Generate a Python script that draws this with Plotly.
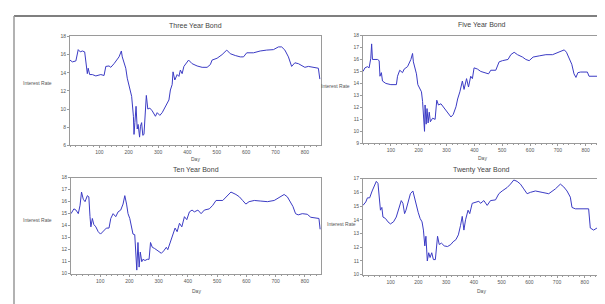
import plotly.graph_objects as go

# ---------------- data ----------------
three_days = [0, 8, 20, 28, 35, 42, 50, 55, 59, 62, 67, 76, 88, 105, 116, 122, 133, 139, 150, 167,
              175, 178, 184, 190, 195, 201, 206, 210, 216, 218, 221, 225, 229, 232, 237, 240, 244, 248,
              252, 257, 260, 265, 272, 280, 291, 297, 306, 314, 322, 331, 337, 342, 348, 351, 357, 365,
              371, 376, 382, 388, 396, 404, 416, 433, 450, 467, 478, 484, 501, 518, 534, 546, 563, 580,
              591, 602, 625, 648, 670, 693, 710, 721, 732, 744, 755, 766, 778, 789, 800, 812, 830, 846, 851]
three_vals = [15.4, 15.2, 15.3, 16.55, 16.3, 16.4, 16.3, 15.2, 13.9, 14.5, 13.8, 13.8, 13.65, 13.8, 13.7,
              14.7, 14.75, 14.6, 15.0, 15.75, 16.4, 15.75, 15.0, 14.5, 13.4, 12.5, 12.1, 11.4, 9.2, 7.2,
              8.5, 10.3, 7.8, 8.3, 6.9, 8.1, 8.5, 7.1, 7.2, 10.3, 11.5, 10.0, 10.1, 9.8, 9.2, 9.6, 9.3,
              9.6, 10.1, 10.7, 11.0, 12.1, 12.7, 14.1, 13.2, 13.8, 13.6, 14.3, 13.9, 14.7, 15.0, 15.4,
              15.0, 14.75, 14.6, 14.6, 14.9, 15.4, 15.6, 16.0, 16.5, 16.1, 15.9, 15.75, 15.75, 16.2, 16.2,
              16.4, 16.5, 16.55, 16.85, 16.85, 16.5, 15.75, 14.7, 15.1, 15.0, 14.75, 14.6, 14.7, 14.6,
              14.5, 13.3]

five_days = [0, 7, 16, 22, 28, 31, 34, 40, 52, 58, 61, 66, 70, 82, 100, 120, 124, 132, 142, 148, 160,
             172, 178, 181, 187, 192, 197, 204, 210, 214, 218, 221, 223, 227, 230, 234, 238, 242, 250,
             259, 265, 271, 280, 288, 297, 307, 316, 324, 334, 340, 348, 357, 363, 372, 379, 387, 393,
             399, 411, 423, 441, 451, 459, 477, 489, 501, 521, 531, 543, 555, 573, 585, 597, 611, 633,
             657, 681, 705, 723, 731, 741, 750, 758, 765, 772, 782, 806, 812, 854]
five_vals = [15.0, 15.3, 15.4, 15.3, 16.1, 17.3, 16.0, 16.0, 16.0, 15.9, 14.6, 14.9, 14.2, 14.0, 13.9,
             13.9, 14.6, 15.1, 14.9, 15.2, 15.4, 16.0, 16.5, 15.8, 15.2, 14.8, 13.9, 13.5, 13.3, 12.5,
             11.4, 10.0, 12.2, 10.6, 11.9, 10.7, 11.6, 10.8, 11.1, 11.0, 12.6, 12.2, 12.3, 12.05, 11.8,
             11.4, 11.2, 11.4, 12.05, 12.7, 13.3, 14.2, 13.5, 14.4, 13.7, 14.6, 14.4, 15.3, 15.2, 15.0,
             14.9, 14.8, 15.1, 15.1, 15.8, 15.9, 16.0, 16.4, 16.6, 16.4, 16.2, 16.0, 15.9, 16.2, 16.3,
             16.4, 16.4, 16.6, 16.8, 16.6, 16.1, 15.6, 14.8, 14.5, 14.9, 14.95, 14.95, 14.6, 14.6]

ten_days = [0, 10, 17, 25, 31, 36, 42, 48, 56, 61, 65, 68, 73, 78, 85, 93, 101, 110, 121, 130, 136, 144,
            153, 161, 170, 178, 184, 190, 195, 201, 207, 212, 218, 221, 225, 229, 233, 237, 242, 246,
            253, 261, 267, 272, 278, 286, 297, 309, 317, 326, 331, 339, 348, 356, 363, 371, 379, 388,
            396, 405, 414, 422, 434, 445, 456, 473, 485, 496, 519, 536, 547, 564, 576, 587, 598, 609,
            627, 649, 672, 695, 717, 729, 740, 751, 759, 768, 777, 791, 808, 820, 835, 848, 852]
ten_vals = [15.0, 15.4, 15.3, 15.0, 15.7, 16.8, 16.2, 16.0, 16.5, 16.4, 14.75, 13.9, 14.6, 14.1, 13.9,
            13.5, 13.3, 13.5, 13.8, 13.8, 14.6, 15.0, 14.75, 15.15, 15.3, 15.8, 16.5, 15.8, 15.0, 14.6,
            13.7, 13.3, 13.25, 12.3, 10.3, 12.6, 10.55, 11.8, 11.0, 11.2, 11.1, 11.2, 11.2, 12.6, 12.2,
            12.1, 11.9, 11.7, 11.9, 12.2, 12.0, 12.6, 13.1, 13.8, 13.5, 14.2, 13.9, 14.75, 14.5, 15.15,
            15.3, 15.15, 15.3, 15.0, 15.3, 15.4, 15.7, 16.1, 16.1, 16.5, 16.8, 16.6, 16.4, 16.1, 15.8,
            16.0, 16.1, 16.05, 16.0, 16.1, 16.4, 16.6, 16.4, 16.0, 15.6, 15.0, 14.9, 15.0, 14.95, 14.7,
            14.65, 14.6, 13.7]

twenty_days = [0, 10, 16, 24, 33, 42, 48, 54, 60, 63, 68, 72, 81, 90, 99, 110, 120, 129, 138, 144, 150,
               155, 164, 171, 180, 186, 192, 199, 206, 213, 218, 223, 227, 232, 237, 242, 248, 254, 261,
               266, 269, 275, 283, 293, 305, 317, 325, 335, 344, 352, 358, 364, 370, 379, 385, 394, 406,
               418, 424, 436, 448, 460, 478, 490, 502, 520, 532, 544, 556, 568, 580, 592, 604, 622, 646,
               670, 694, 712, 724, 736, 748, 754, 766, 814, 820, 832, 844, 850, 856]
twenty_vals = [15.05, 15.3, 15.6, 15.6, 16.1, 16.6, 16.8, 16.65, 15.6, 14.7, 14.9, 14.2, 14.1, 13.85,
               13.7, 13.85, 14.2, 14.8, 15.4, 15.2, 14.45, 14.7, 15.4, 15.9, 16.1, 15.6, 14.9, 14.55,
               14.1, 13.85, 13.25, 12.1, 12.8, 11.0, 11.6, 11.25, 11.6, 11.1, 11.1, 12.3, 12.8, 12.2,
               12.3, 12.1, 12.05, 12.2, 12.4, 12.55, 12.9, 13.6, 14.25, 13.25, 14.0, 14.7, 14.45, 15.2,
               15.3, 15.35, 15.2, 15.4, 15.05, 15.4, 15.45, 15.9, 16.1, 16.35, 16.6, 16.9, 16.8, 16.6,
               16.25, 15.9, 16.0, 16.1, 16.0, 15.9, 16.25, 16.6, 16.4, 16.1, 15.65, 14.9, 14.8, 14.8,
               13.4, 13.25, 13.4, 13.5, 13.4]

titles = ["Three Year Bond", "Five Year Bond", "Ten Year Bond", "Twenty Year Bond"]
x_ticks = [100, 200, 300, 400, 500, 600, 700, 800]
y_ranges = [[6, 18], [9, 18], [10, 18], [10, 17]]
y_steps = [2, 1, 1, 1]
x_label = "Day"
y_label = "Interest Rate"

series = [(three_days, three_vals), (five_days, five_vals), (ten_days, ten_vals), (twenty_days, twenty_vals)]

# ---------------- layout geometry (pixels) ----------------
W, H = 605, 304
boxes = [(62, 313, 26, 137), (355, 593, 25, 135), (63, 313, 170, 268), (355, 592, 171, 269)]
title_y = [15, 14, 162, 162]
xlab_y = [151, 150, 286, 286]
ylab_y = [73, 77, 213, 217]
ylab_x = [46, 344, 46, 350]

def px(x):
    return x / W

def py(y):
    return 1 - y / H

fig = go.Figure()
line_color = "#3b3bc4"
text_color = "#555555"
axis_color = "#9a9a9a"

layout = dict(width=W, height=H, margin=dict(l=0, r=0, t=0, b=0),
              paper_bgcolor="white", plot_bgcolor="white", showlegend=False,
              font=dict(family="Arial, Liberation Sans, sans-serif", color=text_color, size=5))
annotations = []
shapes = []

for i, ((d, v), (x0, x1, y0, y1)) in enumerate(zip(series, boxes)):
    n = "" if i == 0 else str(i + 1)
    fig.add_trace(go.Scatter(x=d, y=v, mode="lines", line=dict(color=line_color, width=1),
                             xaxis="x" + n, yaxis="y" + n, hoverinfo="skip"))
    layout["xaxis" + n] = dict(domain=[px(x0), px(x1)], anchor="y" + n, range=[0, 855],
                               tickvals=x_ticks, ticks="outside", ticklen=2, tickcolor=axis_color,
                               tickfont=dict(size=5, color=text_color), showline=True, mirror=True,
                               linecolor=axis_color, linewidth=1, showgrid=False, zeroline=False,
                               minor=dict(ticks="outside", ticklen=1, dtick=20, tick0=0, tickcolor=axis_color))
    lo, hi = y_ranges[i]
    layout["yaxis" + n] = dict(domain=[py(y1), py(y0)], anchor="x" + n, range=[lo, hi],
                               dtick=y_steps[i], tick0=lo, ticks="outside", ticklen=2, tickcolor=axis_color,
                               tickfont=dict(size=5, color=text_color), showline=True, mirror=True,
                               linecolor=axis_color, linewidth=1, showgrid=False, zeroline=False)
    cx = (x0 + x1) / 2
    annotations.append(dict(text=titles[i], x=px(cx), y=py(title_y[i]), xref="paper", yref="paper",
                            showarrow=False, font=dict(size=7, color="#444444"), xanchor="center", yanchor="middle"))
    annotations.append(dict(text=x_label, x=px(cx), y=py(xlab_y[i]), xref="paper", yref="paper",
                            showarrow=False, font=dict(size=5, color=text_color), xanchor="center", yanchor="middle"))
    annotations.append(dict(text=y_label, x=px(ylab_x[i]), y=py(ylab_y[i]), xref="paper", yref="paper",
                            showarrow=False, font=dict(size=5, color=text_color), xanchor="right", yanchor="middle"))

# outer frame lines
shapes.append(dict(type="line", xref="paper", yref="paper", x0=px(6), x1=px(601), y0=py(5), y1=py(5),
                   line=dict(color="#555555", width=1.5)))
shapes.append(dict(type="line", xref="paper", yref="paper", x0=px(6), x1=px(6), y0=py(5), y1=py(302),
                   line=dict(color="#999999", width=1.5)))
shapes.append(dict(type="line", xref="paper", yref="paper", x0=px(6), x1=px(605), y0=py(302), y1=py(302),
                   line=dict(color="#bbbbbb", width=1.5)))

layout["annotations"] = annotations
layout["shapes"] = shapes
fig.update_layout(**layout)
fig.write_html("out.html")
